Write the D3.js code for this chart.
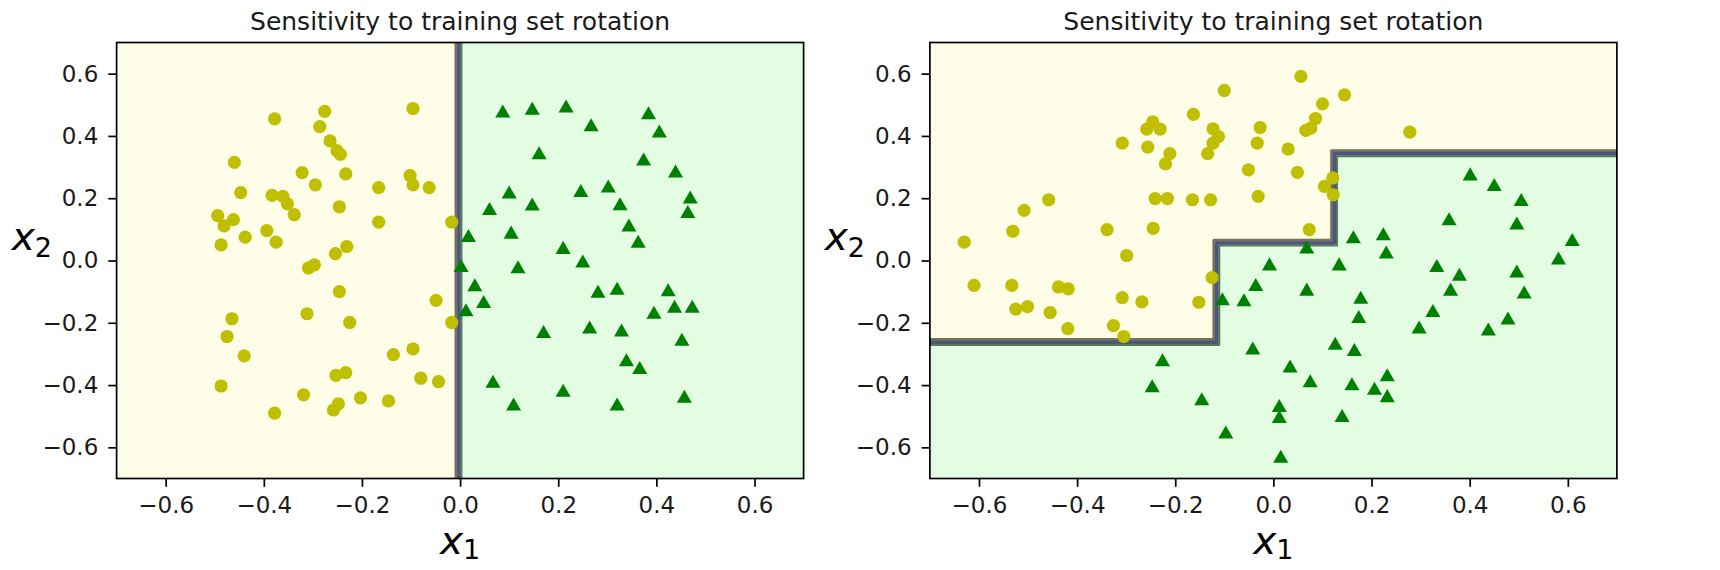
<!DOCTYPE html>
<html>
<head>
<meta charset="utf-8">
<script src="https://cdn.jsdelivr.net/npm/d3@7"></script>
<style>
  body { margin: 0; background: #fff; }
  svg { display: block; }
</style>
</head>
<body>
<svg id="chart"></svg>
<script>
const width = 1720;
const height = 570;

// tick values, shared by both axes
const ticks = [-0.6, -0.4, -0.2, 0.0, 0.2, 0.4, 0.6];
const titleText = "Sensitivity to training set rotation";

// left panel: training set split on x1
const leftYellow = [
  [-0.378, 0.455], [-0.276, 0.479], [-0.096, 0.488], [-0.286, 0.430], [-0.265, 0.384],
  [-0.251, 0.353], [-0.244, 0.341], [-0.460, 0.315], [-0.322, 0.282], [-0.233, 0.278],
  [-0.295, 0.243], [-0.166, 0.234], [-0.102, 0.273], [-0.096, 0.243], [-0.063, 0.234],
  [-0.447, 0.218], [-0.383, 0.209], [-0.361, 0.206], [-0.352, 0.182], [-0.338, 0.147],
  [-0.246, 0.172], [-0.166, 0.123], [-0.494, 0.144], [-0.462, 0.131], [-0.481, 0.111],
  [-0.487, 0.050], [-0.438, 0.075], [-0.394, 0.096], [-0.375, 0.059], [-0.254, 0.022],
  [-0.231, 0.045], [-0.309, -0.024], [-0.297, -0.014], [-0.246, -0.100], [-0.017, 0.123],
  [-0.465, -0.187], [-0.475, -0.244], [-0.440, -0.306], [-0.487, -0.403], [-0.312, -0.171],
  [-0.225, -0.199], [-0.136, -0.302], [-0.096, -0.284], [-0.253, -0.369], [-0.233, -0.360],
  [-0.080, -0.378], [-0.319, -0.431], [-0.203, -0.441], [-0.146, -0.451], [-0.248, -0.460],
  [-0.258, -0.480], [-0.378, -0.490], [-0.049, -0.128], [-0.017, -0.199], [-0.044, -0.389]
];
const leftGreen = [
  [0.087, 0.477], [0.147, 0.486], [0.216, 0.493], [0.267, 0.433], [0.384, 0.471],
  [0.406, 0.413], [0.161, 0.343], [0.374, 0.323], [0.439, 0.284], [0.100, 0.217],
  [0.246, 0.222], [0.302, 0.236], [0.469, 0.201], [0.060, 0.164], [0.147, 0.178],
  [0.326, 0.179], [0.464, 0.154], [0.017, 0.077], [0.104, 0.088], [0.344, 0.111],
  [0.363, 0.059], [0.210, 0.039], [0.250, -0.005], [0.002, -0.019], [0.118, -0.023],
  [0.030, -0.081], [0.281, -0.102], [0.320, -0.092], [0.424, -0.097], [0.048, -0.135],
  [0.012, -0.161], [0.395, -0.169], [0.437, -0.150], [0.473, -0.150], [0.170, -0.231],
  [0.264, -0.217], [0.329, -0.226], [0.452, -0.256], [0.339, -0.322], [0.366, -0.347],
  [0.067, -0.391], [0.210, -0.420], [0.109, -0.464], [0.320, -0.464], [0.457, -0.439]
];
const leftBoundary = [[-0.003, -0.75], [-0.003, 0.75]];
const leftCorners = [[-0.75, 0.75], [-0.75, -0.75]];

// right panel: same set rotated 45 degrees
const rightYellow = [
  [-0.630, 0.059], [-0.531, 0.094], [-0.508, 0.161], [-0.458, 0.195], [-0.308, 0.377],
  [-0.256, 0.364], [-0.258, 0.422], [-0.246, 0.445], [-0.231, 0.422], [-0.211, 0.343],
  [-0.220, 0.310], [-0.241, 0.199], [-0.216, 0.199], [-0.165, 0.195], [-0.128, 0.195],
  [-0.245, 0.103], [-0.339, 0.099], [-0.299, 0.016], [-0.163, 0.469], [-0.100, 0.546],
  [-0.123, 0.423], [-0.112, 0.398], [-0.123, 0.377], [-0.134, 0.343], [-0.027, 0.427],
  [-0.033, 0.377], [-0.051, 0.291], [-0.031, 0.206], [0.030, 0.358], [0.056, 0.591],
  [0.049, 0.283], [0.145, 0.532], [0.100, 0.503], [0.086, 0.456], [0.066, 0.418],
  [0.076, 0.425], [0.278, 0.412], [0.121, 0.265], [0.104, 0.238], [0.122, 0.211],
  [0.073, 0.099], [-0.125, -0.055], [-0.610, -0.080], [-0.533, -0.080], [-0.438, -0.085],
  [-0.418, -0.091], [-0.525, -0.156], [-0.501, -0.148], [-0.455, -0.167], [-0.419, -0.219],
  [-0.308, -0.119], [-0.268, -0.133], [-0.326, -0.209], [-0.305, -0.244], [-0.152, -0.134]
];
const rightGreen = [
  [-0.008, -0.014], [-0.036, -0.080], [-0.104, -0.126], [-0.060, -0.129], [-0.042, -0.284],
  [0.034, -0.342], [-0.226, -0.322], [-0.247, -0.405], [-0.146, -0.447], [0.012, -0.469],
  [0.012, -0.504], [-0.097, -0.554], [0.015, -0.632], [0.401, 0.275], [0.450, 0.241],
  [0.505, 0.193], [0.358, 0.131], [0.496, 0.117], [0.163, 0.073], [0.224, 0.083],
  [0.230, 0.024], [0.068, 0.040], [0.134, -0.014], [0.333, -0.019], [0.379, -0.047],
  [0.496, -0.037], [0.581, 0.005], [0.609, 0.064], [0.068, -0.095], [0.361, -0.095],
  [0.511, -0.104], [0.178, -0.121], [0.174, -0.183], [0.325, -0.164], [0.297, -0.217],
  [0.478, -0.188], [0.438, -0.223], [0.126, -0.269], [0.165, -0.289], [0.075, -0.389],
  [0.160, -0.399], [0.206, -0.413], [0.232, -0.370], [0.232, -0.437], [0.140, -0.501]
];
const rightBoundary = [
  [-0.75, -0.262], [-0.116, -0.262], [-0.116, 0.057],
  [0.124, 0.057], [0.124, 0.344], [0.75, 0.344]
];
const rightCorners = [[0.75, 0.75], [-0.75, 0.75]];

const panels = [
  { left: 116.6, yellow: leftYellow, green: leftGreen, boundary: leftBoundary, corners: leftCorners, ylab: 52 },
  { left: 929.9, yellow: rightYellow, green: rightGreen, boundary: rightBoundary, corners: rightCorners, ylab: 865 }
];

const axTop = 42.5, axH = 436, axW = 687;
const font = "DejaVu Sans";

const svg = d3.select("#chart")
  .attr("width", width)
  .attr("height", height)
  .attr("font-family", font);

svg.append("rect").attr("width", width).attr("height", height).attr("fill", "#fff");

const fmt = d3.format(".1f");

panels.forEach((p, i) => {
  const x = d3.scaleLinear().domain([-0.7, 0.7]).range([p.left, p.left + axW]);
  const y = d3.scaleLinear().domain([-0.7, 0.7]).range([axTop + axH, axTop]);

  const clipId = "clip" + i;
  svg.append("clipPath").attr("id", clipId)
    .append("rect")
    .attr("x", p.left).attr("y", axTop)
    .attr("width", axW).attr("height", axH);

  const g = svg.append("g").attr("clip-path", `url(#${clipId})`);

  // green class region, then yellow region on top
  g.append("rect")
    .attr("x", p.left).attr("y", axTop)
    .attr("width", axW).attr("height", axH)
    .attr("fill", "#e2fde2");

  const line = d3.line().x(d => x(d[0])).y(d => y(d[1]));
  g.append("path")
    .attr("d", line(p.boundary.concat(p.corners)) + "Z")
    .attr("fill", "#fdfde8");

  // contour lines: olive on the yellow side, blue core, green on the green side
  const strokes = [
    { off: -2.6, w: 3, c: "#74745a" },
    { off: 2.8, w: 2, c: "#4f8052" },
    { off: 0.3, w: 3.6, c: "#4f5380" }
  ];
  strokes.forEach(s => {
    g.append("path")
      .attr("d", line(p.boundary))
      .attr("transform", `translate(${s.off},${s.off})`)
      .attr("fill", "none")
      .attr("stroke", s.c)
      .attr("stroke-width", s.w)
      .attr("stroke-linejoin", "round");
  });

  // training points
  g.selectAll(".yo").data(p.yellow).join("circle")
    .attr("cx", d => x(d[0]))
    .attr("cy", d => y(d[1]))
    .attr("r", 6.6)
    .attr("fill", "#bfbf00");

  const tri = d3.symbol().type(d3.symbolTriangle).size(98);
  g.selectAll(".g").data(p.green).join("path")
    .attr("d", tri)
    .attr("transform", d => `translate(${x(d[0])},${y(d[1]) + 1.2})`)
    .attr("fill", "#008000");

  // axes
  const xAxis = svg.append("g")
    .attr("transform", `translate(0,${axTop + axH})`)
    .call(d3.axisBottom(x).tickValues(ticks).tickFormat(fmt).tickSize(8.3).tickPadding(10));
  const yAxis = svg.append("g")
    .attr("transform", `translate(${p.left},0)`)
    .call(d3.axisLeft(y).tickValues(ticks).tickFormat(fmt).tickSize(8.3).tickPadding(10));

  [xAxis, yAxis].forEach(a => {
    a.attr("font-family", font).attr("font-size", 23);
    a.select(".domain").remove();
    a.selectAll(".tick line").attr("stroke", "#000").attr("stroke-width", 1.7);
    a.selectAll(".tick text").attr("fill", "#1a1a1a");
  });

  svg.append("rect")
    .attr("x", p.left).attr("y", axTop)
    .attr("width", axW).attr("height", axH)
    .attr("fill", "none")
    .attr("stroke", "#000")
    .attr("stroke-width", 1.7);

  // title
  svg.append("text")
    .attr("x", p.left + axW / 2)
    .attr("y", 30)
    .attr("text-anchor", "middle")
    .attr("font-size", 25)
    .attr("fill", "#1a1a1a")
    .text(titleText);

  // x1 label
  const xl = svg.append("text")
    .attr("x", p.left + axW / 2)
    .attr("y", 553.5)
    .attr("text-anchor", "middle")
    .attr("fill", "#000");
  xl.append("tspan").attr("font-style", "italic").attr("font-size", 39).text("x");
  xl.append("tspan").attr("font-size", 27).attr("dy", 5).text("1");

  // x2 label, horizontal
  const yl = svg.append("text")
    .attr("x", p.ylab)
    .attr("y", 250)
    .attr("text-anchor", "end")
    .attr("fill", "#000");
  yl.append("tspan").attr("font-style", "italic").attr("font-size", 39).text("x");
  yl.append("tspan").attr("font-size", 27).attr("dy", 6.5).text("2");
});
</script>
</body>
</html>
